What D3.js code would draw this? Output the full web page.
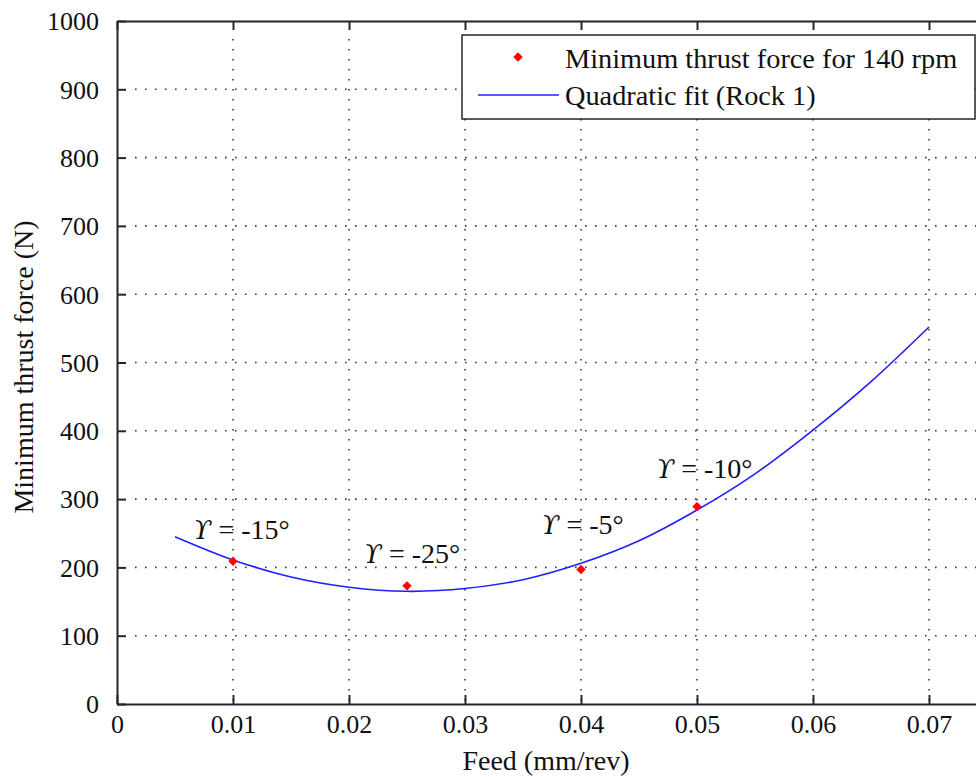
<!DOCTYPE html>
<html>
<head>
<meta charset="utf-8">
<script src="https://cdn.jsdelivr.net/npm/d3@7"></script>
<style>
  html, body { margin: 0; padding: 0; background: #fff; overflow: hidden; }
  svg { display: block; }
  text { font-family: "Liberation Serif", "Times New Roman", serif; fill: #111; }
</style>
</head>
<body>
<script>
// Measured minimum thrust force at 140 rpm for four feed rates
const feed = [0.01, 0.025, 0.04, 0.05];
const thrust = [209, 173, 197, 289];
const rakeLabels = ["-15°", "-25°", "-5°", "-10°"];
// Label anchors (feed, force) for the rake-angle annotations
const labelFeed = [0.0066, 0.0213, 0.0366, 0.0465];
const labelForce = [242, 206, 249, 331];

// Quadratic fit curve (Rock 1)
const fitFeed = [0.005, 0.01, 0.015, 0.02, 0.025, 0.03, 0.035, 0.04, 0.045, 0.05, 0.055, 0.06, 0.065, 0.07];
const fitForce = [245, 211, 186, 171, 165, 169, 182, 206, 239, 284, 337, 401, 472, 552];

// Axis ticks
const xTicks = [0, 0.01, 0.02, 0.03, 0.04, 0.05, 0.06, 0.07];
const xTickLabels = ["0", "0.01", "0.02", "0.03", "0.04", "0.05", "0.06", "0.07"];
const yTicks = [0, 100, 200, 300, 400, 500, 600, 700, 800, 900, 1000];

const legendLabels = ["Minimum thrust force for 140 rpm", "Quadratic fit (Rock 1)"];

const W = 976, H = 777;
const svg = d3.select("body").append("svg").attr("width", W).attr("height", H);

// The axes box continues past the right edge of the figure (up to feed 0.08)
const x = d3.scaleLinear().domain([0, 0.08]).range([117, 1045]);
const y = d3.scaleLinear().domain([0, 1000]).range([704, 21]);

const axisColor = "#262626";

// Grid (dotted)
const grid = svg.append("g").attr("stroke", "#3a3a3a").attr("stroke-width", 1.6)
  .attr("stroke-dasharray", "1.6,8.4");
xTicks.filter(t => t > 0).forEach(t => {
  grid.append("line").attr("x1", x(t)).attr("x2", x(t))
    .attr("y1", y(1000) + 18).attr("y2", y(0));
});
yTicks.filter(t => t > 0 && t < 1000).forEach(t => {
  grid.append("line").attr("x1", x(0) + 18).attr("x2", x(0.08))
    .attr("y1", y(t)).attr("y2", y(t));
});

// Axes with inward ticks
const axisBottomG = svg.append("g").attr("transform", `translate(0,${y(0)})`)
  .call(d3.axisBottom(x).tickValues(xTicks).tickSizeInner(-9).tickSizeOuter(0)
    .tickPadding(14).tickFormat((d, i) => xTickLabels[i]));
const axisTopG = svg.append("g").attr("transform", `translate(0,${y(1000)})`)
  .call(d3.axisTop(x).tickValues(xTicks).tickSizeInner(-9).tickSizeOuter(0).tickFormat(""));
const axisLeftG = svg.append("g").attr("transform", `translate(${x(0)},0)`)
  .call(d3.axisLeft(y).tickValues(yTicks).tickSizeInner(-9).tickSizeOuter(0)
    .tickPadding(18).tickFormat(d3.format("d")));

[axisBottomG, axisTopG, axisLeftG].forEach(g => {
  g.select(".domain").attr("stroke", axisColor).attr("stroke-width", 2);
  g.selectAll(".tick line").attr("stroke", axisColor).attr("stroke-width", 2);
  g.selectAll(".tick text").attr("font-size", 26).attr("fill", "#1a1a1a");
});
axisBottomG.selectAll(".tick text").attr("dy", "0.71em").attr("y", 11);
axisLeftG.selectAll(".tick text").attr("dy", "0.34em");

// Fit curve
const fitData = fitFeed.map((f, i) => [f, fitForce[i]]);
svg.append("path").datum(fitData)
  .attr("fill", "none").attr("stroke", "#1f1fff").attr("stroke-width", 1.6)
  .attr("d", d3.line().x(d => x(d[0])).y(d => y(d[1])).curve(d3.curveCatmullRom));

// Data markers (red diamonds)
const diamond = d3.symbol().type(d3.symbolSquare).size(44);
svg.append("g").selectAll("path").data(feed).join("path")
  .attr("d", diamond())
  .attr("transform", (d, i) => `translate(${x(d)},${y(thrust[i])}) rotate(45)`)
  .attr("fill", "#ff0000");

// Rake-angle annotations
const ann = svg.append("g").attr("font-size", 28);
rakeLabels.forEach((lab, i) => {
  const t = ann.append("text").attr("x", x(labelFeed[i])).attr("y", y(labelForce[i]));
  t.append("tspan").style("font-family", "\"DejaVu Serif\", serif").attr("font-style", "italic")
    .attr("font-size", 26).text("ϒ");
  t.append("tspan").text(" = " + lab);
});

// Axis titles
svg.append("text").attr("x", 546).attr("y", 770).attr("text-anchor", "middle")
  .attr("font-size", 28).text("Feed (mm/rev)");
svg.append("text").attr("transform", "translate(33,367) rotate(-90)")
  .attr("text-anchor", "middle").attr("font-size", 28).text("Minimum thrust force (N)");

// Legend
const lg = svg.append("g");
lg.append("rect").attr("x", 462).attr("y", 35).attr("width", 513).attr("height", 84)
  .attr("fill", "#fff").attr("stroke", axisColor).attr("stroke-width", 1.5);
lg.append("path").attr("d", diamond())
  .attr("transform", "translate(518,57) rotate(45)").attr("fill", "#ff0000");
lg.append("line").attr("x1", 478).attr("x2", 559).attr("y1", 95).attr("y2", 95)
  .attr("stroke", "#1f1fff").attr("stroke-width", 1.6);
lg.append("text").attr("x", 565).attr("y", 68).attr("font-size", 28.3).text(legendLabels[0]);
lg.append("text").attr("x", 565).attr("y", 105).attr("font-size", 28.3).text(legendLabels[1]);
</script>
</body>
</html>
